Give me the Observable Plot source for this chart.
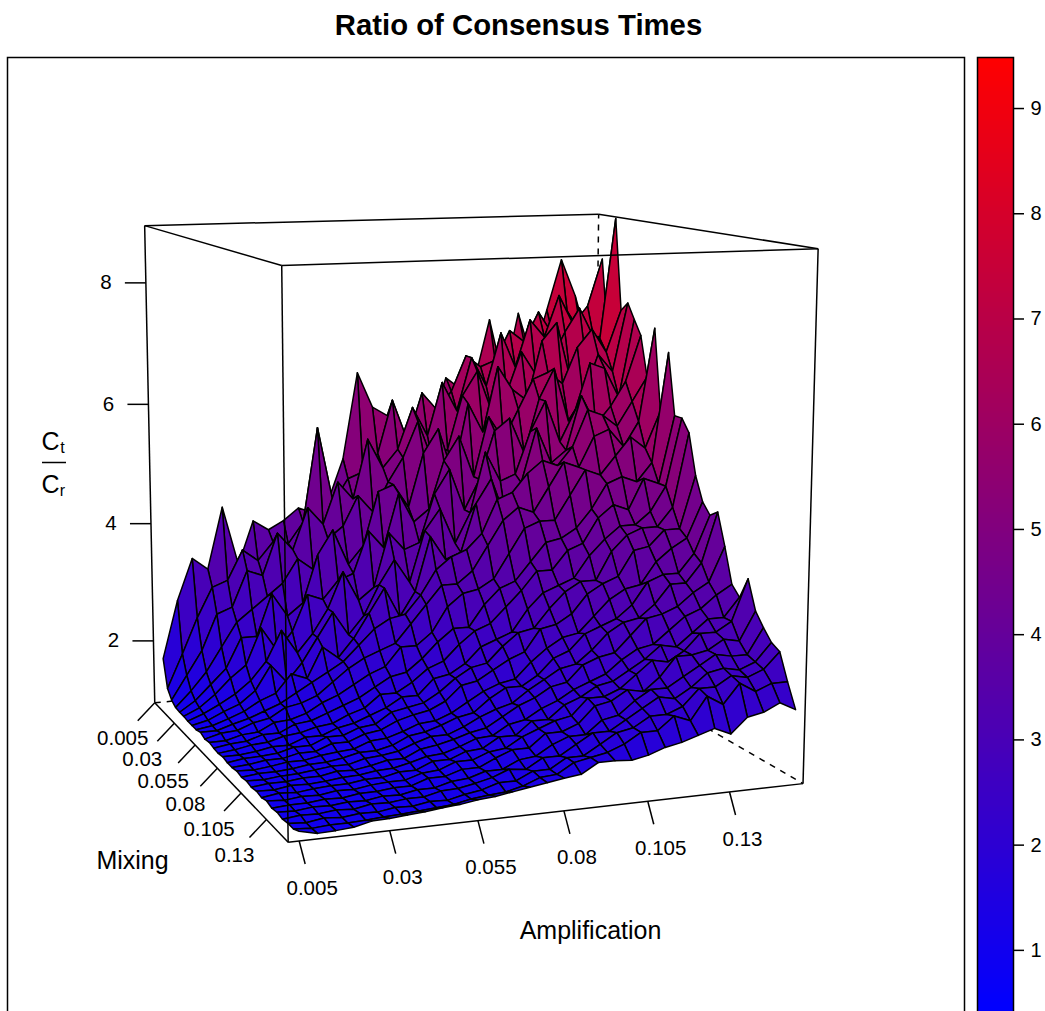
<!doctype html>
<html><head><meta charset="utf-8">
<script src="https://cdn.jsdelivr.net/npm/d3@7"></script>
<script src="https://cdn.jsdelivr.net/npm/@observablehq/plot@0.6"></script>
<style>html,body{margin:0;padding:0;background:#fff;overflow:hidden;width:1045px;height:1011px}
#t{position:absolute;z-index:5;left:0;width:1037px;top:8px;text-align:center;font:bold 29.3px "Liberation Sans";color:#000}
#m,#k{position:absolute;top:0}#m{left:0}#k{left:976px}</style></head>
<body><div id="t">Ratio of Consensus Times</div><div id="m"></div><div id="k"></div>
<script>
const amplification=[0.005,0.01,0.015,0.02,0.025,0.03,0.035,0.04,0.045,0.05,0.055,0.06,0.065,0.07,0.075,0.08,0.085,0.09,0.095,0.1,0.105,0.11,0.115,0.12,0.125,0.13,0.135,0.14,0.145,0.15];
const mixing=[0.005,0.01,0.015,0.02,0.025,0.03,0.035,0.04,0.045,0.05,0.055,0.06,0.065,0.07,0.075,0.08,0.085,0.09,0.095,0.1,0.105,0.11,0.115,0.12,0.125,0.13,0.135,0.14,0.145,0.15];
// ratio values: one row per mixing level, one column per amplification level
const ratio=[
[1.68,2.66,3.36,3.16,4.2,3.2,3.93,3.76,3.9,4.1,4.0,4.2,4.9,6.36,5.76,5.6,5.33,5.2,5.4,6.2,6.0,6.16,7.17,6.1,7.26,6.44,7.3,8.16,7.53,6.66],
[1.23,1.8,2.4,2.9,3.0,3.5,3.3,3.6,3.55,3.9,5.5,4.2,4.6,4.7,5.0,5.9,5.2,6.0,5.7,6.0,6.6,6.4,6.5,7.0,6.8,7.3,6.9,7.3,6.9,6.6],
[1.1,1.5,1.9,2.5,2.6,3.2,3.1,3.8,3.5,4.2,3.9,4.6,4.3,5.3,4.8,5.1,5.8,5.3,6.2,5.7,6.6,6.1,7.0,6.4,7.2,6.9,7.6,7.1,7.4,8.2],
[1.04,1.3,1.6,2.0,2.4,2.6,2.8,3.0,3.4,3.2,3.7,3.9,4.4,4.1,4.6,5.0,5.6,4.9,5.1,6.0,6.4,5.7,6.0,6.7,6.3,6.5,7.0,7.4,6.9,6.9],
[1.03,1.2,1.45,1.7,2.2,2.2,2.9,2.5,2.7,3.5,3.9,3.3,3.6,4.5,4.6,4.2,5.1,5.5,4.7,5.9,5.4,6.5,6.1,5.9,6.9,7.2,6.2,6.6,6.9,8.93],
[1.03,1.15,1.35,1.6,1.8,2.4,2.0,2.3,2.9,2.8,3.1,3.2,3.9,3.6,4.5,4.0,4.2,5.0,5.4,4.7,5.7,5.3,5.8,6.3,6.4,6.2,6.8,7.1,6.7,7.4],
[1.02,1.12,1.25,1.4,1.6,1.9,2.4,2.0,2.3,2.7,3.3,2.8,3.0,3.9,3.6,3.7,4.5,4.9,4.2,4.7,5.5,5.7,5.1,6.0,6.5,5.6,6.0,6.7,6.4,7.55],
[1.02,1.08,1.2,1.3,1.5,1.9,1.6,1.9,2.3,2.7,2.3,2.6,3.1,3.5,3.1,3.95,4.3,3.7,4.2,5.2,4.7,4.8,5.5,6.0,5.3,5.8,6.6,6.5,6.0,7.3],
[1.02,1.06,1.15,1.25,1.4,1.5,1.8,1.7,2.2,2.0,2.3,2.7,3.1,2.6,3.0,3.9,3.5,3.6,4.4,4.8,4.1,4.7,5.6,5.0,5.2,6.1,5.6,5.9,6.3,7.06],
[1.05,1.05,1.13,1.2,1.3,1.4,1.55,1.7,1.85,2.0,2.25,2.5,2.65,2.7,3.0,3.4,3.6,3.7,3.95,4.5,4.6,4.9,5.1,5.0,5.3,5.9,5.8,5.6,6.0,6.4],
[1.01,1.08,1.1,1.2,1.25,1.4,1.45,1.55,1.75,1.95,2.1,2.2,2.3,2.6,2.9,3.2,3.2,3.4,3.8,4.2,4.4,4.3,4.7,5.1,5.0,5.5,5.6,5.3,5.7,7.24],
[1.03,1.03,1.1,1.12,1.25,1.27,1.35,1.5,1.6,1.75,1.9,2.0,2.3,2.3,2.5,2.9,3.1,3.15,3.3,3.7,4.1,4.2,4.2,4.6,5.0,4.9,5.2,5.5,5.3,5.9],
[1.01,1.05,1.07,1.15,1.15,1.27,1.3,1.4,1.5,1.6,1.75,1.9,1.95,2.15,2.4,2.6,2.6,2.95,3.2,3.3,3.6,3.9,3.95,4.1,4.4,4.8,4.9,4.8,5.1,6.9],
[1.0,1.03,1.08,1.1,1.17,1.2,1.27,1.3,1.42,1.5,1.7,1.7,1.85,2.05,2.15,2.4,2.6,2.7,2.95,3.2,3.5,3.5,3.8,3.9,4.3,4.5,4.4,4.9,4.8,5.9],
[1.02,1.02,1.05,1.1,1.1,1.2,1.2,1.3,1.35,1.45,1.55,1.7,1.7,1.95,2.0,2.15,2.4,2.5,2.6,2.95,3.2,3.3,3.4,3.75,4.0,4.2,4.2,4.4,4.8,5.9],
[1.0,1.04,1.05,1.07,1.14,1.14,1.25,1.25,1.35,1.38,1.55,1.6,1.65,1.8,2.0,2.15,2.2,2.45,2.65,2.7,3.0,3.25,3.4,3.4,3.85,4.1,4.2,4.2,4.5,5.7],
[1.0,1.02,1.06,1.06,1.12,1.12,1.22,1.22,1.32,1.36,1.48,1.55,1.6,1.72,1.95,2.0,2.15,2.3,2.4,2.75,2.8,2.95,3.25,3.4,3.5,3.9,3.95,4.2,4.2,5.05],
[1.02,1.01,1.04,1.08,1.08,1.13,1.16,1.18,1.28,1.3,1.38,1.48,1.5,1.6,1.75,1.9,2.0,2.05,2.3,2.5,2.65,2.7,2.95,3.2,3.35,3.4,3.75,3.95,4.1,4.67],
[1.0,1.03,1.03,1.05,1.09,1.1,1.14,1.2,1.2,1.26,1.38,1.42,1.5,1.6,1.65,1.85,2.0,2.0,2.15,2.4,2.5,2.75,2.85,2.95,3.15,3.5,3.6,3.6,3.9,4.5],
[1.02,1.01,1.04,1.05,1.08,1.11,1.11,1.18,1.2,1.24,1.34,1.42,1.42,1.52,1.65,1.75,1.82,2.0,2.15,2.3,2.35,2.55,2.8,2.95,3.0,3.2,3.5,3.5,3.8,4.6],
[1.0,1.03,1.03,1.06,1.06,1.11,1.1,1.14,1.2,1.2,1.32,1.36,1.42,1.5,1.55,1.7,1.85,1.95,2.1,2.15,2.4,2.5,2.55,2.8,3.05,3.1,3.2,3.4,3.55,4.1],
[1.02,1.01,1.05,1.04,1.06,1.09,1.1,1.14,1.15,1.21,1.28,1.3,1.38,1.48,1.5,1.65,1.7,1.85,1.95,2.1,2.2,2.3,2.5,2.65,2.7,2.9,3.1,3.2,3.4,3.55],
[1.0,1.04,1.02,1.05,1.07,1.07,1.11,1.11,1.17,1.17,1.28,1.28,1.38,1.4,1.55,1.55,1.75,1.75,1.95,2.05,2.2,2.25,2.4,2.55,2.75,2.7,2.9,3.1,3.1,3.4],
[1.03,1.01,1.04,1.03,1.07,1.06,1.1,1.12,1.12,1.2,1.22,1.32,1.32,1.42,1.45,1.6,1.7,1.8,1.85,2.1,2.1,2.2,2.4,2.6,2.55,2.7,2.95,2.95,3.1,3.75],
[1.0,1.02,1.02,1.05,1.04,1.08,1.08,1.11,1.11,1.2,1.2,1.28,1.28,1.4,1.5,1.5,1.7,1.7,1.8,2.05,2.1,2.25,2.2,2.4,2.7,2.7,2.75,2.9,2.85,3.3],
[1.02,1.01,1.04,1.03,1.06,1.05,1.09,1.08,1.13,1.13,1.2,1.22,1.3,1.3,1.42,1.45,1.6,1.7,1.7,1.9,1.95,2.15,2.3,2.3,2.45,2.6,2.75,2.7,2.7,3.1],
[1.0,1.03,1.02,1.05,1.03,1.08,1.07,1.1,1.1,1.16,1.17,1.22,1.28,1.38,1.35,1.5,1.5,1.65,1.8,1.8,1.95,2.1,2.25,2.2,2.35,2.55,2.6,2.55,2.65,2.93],
[1.02,1.0,1.04,1.02,1.05,1.04,1.08,1.07,1.11,1.1,1.16,1.2,1.28,1.28,1.4,1.4,1.55,1.55,1.7,1.85,1.9,2.05,2.05,2.15,2.4,2.4,2.55,2.5,2.6,2.85],
[1.02,1.0,1.02,1.02,1.03,1.05,1.06,1.08,1.1,1.12,1.17,1.2,1.22,1.28,1.38,1.4,1.55,1.6,1.65,1.75,1.9,1.9,2.1,2.0,2.35,2.2,2.5,2.35,2.45,2.45],
[1.07,1.01,1.02,1.04,1.1,1.11,1.13,1.15,1.18,1.2,1.24,1.26,1.3,1.34,1.38,1.42,1.45,1.6,1.6,1.58,1.63,1.72,1.77,1.85,1.93,1.82,2.05,2.1,2.22,2.09]
];
const ampTicks=[0.005,0.03,0.055,0.08,0.105,0.13];
const mixTicks=[0.005,0.03,0.055,0.08,0.105,0.13];
const ratioTicks=[2,4,6,8];
const keyTicks=[1,2,3,4,5,6,7,8,9];
const ampLim=[0.002,0.153], mixLim=[0.005,0.15], ratioLim=[0.93,8.93], keyLim=[0.4,9.485];

// perspective camera mapping the unit box of (amplification, mixing, ratio) to the page
const cam=[[477.28901,83.03198,-15.14037,154.25642],[2.96424,-7.90733,-485.00251,702.25887],[0.0655067,-0.1750818,-0.0349873,1]];
const unit=(v,[a,b])=>(v-a)/(b-a);
function proj(a,m,r){const u=unit(a,ampLim),v=unit(m,mixLim),w=unit(r,ratioLim);
  const h=c=>c[0]*u+c[1]*v+c[2]*w+c[3],d=h(cam[2]);return [h(cam[0])/d,h(cam[1])/d];}

const facets=[];
let fid=0;
for(let j=0;j<mixing.length-1;j++)for(let i=amplification.length-2;i>=0;i--){
  const corners=[[i,j],[i+1,j],[i+1,j+1],[i,j+1],[i,j]];
  const mean=d3.mean(corners.slice(0,4),([p,q])=>ratio[q][p]);
  for(const [p,q] of corners){const [x,y]=proj(amplification[p],mixing[q],ratio[q][p]);facets.push({id:fid,x,y,mean});}
  fid++;
}
const [al,ah]=ampLim,[ml,mh]=mixLim,[rl,rh]=ratioLim;
const edge=(a,b)=>{const p=proj(...a),q=proj(...b);return {x1:p[0],y1:p[1],x2:q[0],y2:q[1]};};
const hiddenEdges=[edge([al,ml,rl],[ah,ml,rl]),edge([ah,ml,rl],[ah,mh,rl]),edge([ah,ml,rl],[ah,ml,rh])];
const boxEdges=[[[al,ml,rl],[al,mh,rl]],[[al,mh,rl],[ah,mh,rl]],[[al,ml,rl],[al,ml,rh]],[[al,mh,rl],[al,mh,rh]],[[ah,mh,rl],[ah,mh,rh]],
 [[al,ml,rh],[ah,ml,rh]],[[ah,ml,rh],[ah,mh,rh]],[[al,ml,rh],[al,mh,rh]],[[al,mh,rh],[ah,mh,rh]]].map(e=>edge(...e));
const F="Liberation Sans";
const lab={fontSize:20.5,fill:"#000",fontFamily:F,textAnchor:"middle",lineAnchor:"middle"};
const sw=1.5;
const P=(a,m,r)=>proj(a,m,r);
const main=Plot.plot({
  width:966,height:1040,marginLeft:7,marginRight:2,marginTop:57,marginBottom:0,
  x:{domain:[7,964],range:[7,964],axis:null},y:{domain:[57,1040],range:[57,1040],axis:null},
  color:{type:"linear",domain:keyLim,range:["#0000ff","#ff0000"],interpolate:"rgb"},
  style:{background:"#fff",fontFamily:F},
  marks:[
    Plot.link(hiddenEdges,{x1:"x1",y1:"y1",x2:"x2",y2:"y2",stroke:"#000",strokeWidth:sw,strokeDasharray:"6,6"}),
    Plot.link(boxEdges.slice(5,7),{x1:"x1",y1:"y1",x2:"x2",y2:"y2",stroke:"#000",strokeWidth:sw}),
    Plot.line(facets,{x:"x",y:"y",z:"id",fill:"mean",stroke:"#000",strokeWidth:sw,strokeLinejoin:"round"}),
    Plot.link(boxEdges.slice(0,5).concat(boxEdges.slice(7)),{x1:"x1",y1:"y1",x2:"x2",y2:"y2",stroke:"#000",strokeWidth:sw}),
    Plot.link(ampTicks,{x1:d=>P(d,mh,rl)[0],y1:d=>P(d,mh,rl)[1],x2:d=>P(d,mh,rl)[0]+6,y2:d=>P(d,mh,rl)[1]+23,stroke:"#000",strokeWidth:sw}),
    Plot.text(ampTicks,{x:d=>P(d,mh,rl)[0]+13,y:d=>P(d,mh,rl)[1]+47,text:d=>String(d),...lab}),
    Plot.link(mixTicks,{x1:d=>P(al,d,rl)[0],y1:d=>P(al,d,rl)[1],x2:d=>P(al,d,rl)[0]-17,y2:d=>P(al,d,rl)[1]+18,stroke:"#000",strokeWidth:sw}),
    Plot.text(mixTicks,{x:d=>P(al,d,rl)[0]-32,y:d=>P(al,d,rl)[1]+36,text:d=>String(d),...lab}),
    Plot.link(ratioTicks,{x1:d=>P(al,ml,d)[0],y1:d=>P(al,ml,d)[1],x2:d=>P(al,ml,d)[0]-21,y2:d=>P(al,ml,d)[1],stroke:"#000",strokeWidth:sw}),
    Plot.text(ratioTicks,{x:d=>P(al,ml,d)[0]-40,y:d=>P(al,ml,d)[1],text:d=>String(d),...lab}),
    Plot.text(["Mixing"],{x:132,y:860,text:d=>d,...lab,fontSize:25}),
    Plot.text(["Amplification"],{x:590,y:930,text:d=>d,...lab,fontSize:25}),
    Plot.text(["C"],{x:50,y:441,text:d=>d,...lab,fontSize:25}),
    Plot.text(["t"],{x:62,y:447,text:d=>d,...lab,fontSize:16}),
    Plot.ruleY([462],{x1:42,x2:66,stroke:"#000",strokeWidth:sw}),
    Plot.text(["C"],{x:50,y:484,text:d=>d,...lab,fontSize:25}),
    Plot.text(["r"],{x:62,y:490,text:d=>d,...lab,fontSize:16}),
    Plot.frame({stroke:"#000",strokeWidth:sw})
  ]
});
document.getElementById("m").append(main);

const keySteps=d3.range(keyLim[0],keyLim[1],0.02);
const key=Plot.plot({
  width:69,height:1040,marginLeft:1,marginRight:32,marginTop:57,marginBottom:27,
  x:{domain:[0,1],axis:null},
  y:{domain:keyLim,axis:null},
  color:{type:"linear",domain:keyLim,range:["#0000ff","#ff0000"],interpolate:"rgb"},
  style:{background:"transparent",fontFamily:F,overflow:"visible"},
  marks:[
    Plot.rect(keySteps,{x1:0,x2:1,y1:d=>d,y2:d=>Math.min(d+0.02,keyLim[1]),fill:d=>d,shapeRendering:"crispEdges"}),
    Plot.axisY(keyTicks,{anchor:"right",tickSize:10,tickPadding:7,fontSize:20,stroke:"#000",strokeWidth:sw,fill:"#000",tickFormat:d=>String(d),label:null,textAnchor:"start"}),
    Plot.frame({stroke:"#000",strokeWidth:sw})
  ]
});
document.getElementById("k").append(key);
</script></body></html>
